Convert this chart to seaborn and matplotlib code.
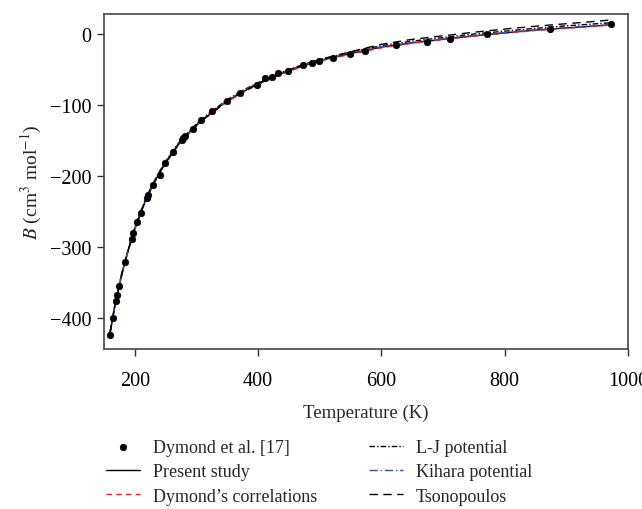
import matplotlib
matplotlib.use("Agg")
import matplotlib.pyplot as plt
import seaborn as sns
import pandas as pd

# Experimental data (Dymond et al.)
exp_T = [159, 164, 169, 171, 175, 184, 195, 197, 203, 210, 219, 222, 230, 241, 249,
         262, 276, 278, 281, 295, 308, 325, 349, 371, 398, 411, 422, 433, 449, 473,
         487, 499, 522, 549, 573, 624, 674, 712, 772, 873, 972]
exp_B = [-423, -400, -376, -367, -354, -320, -288, -280, -265, -252, -231, -226, -212, -198, -181,
         -165, -149, -146, -143, -133, -121, -108, -94, -82, -71.5, -62, -60, -55, -52, -43,
         -40, -38, -33, -27, -23.5, -14.5, -10.5, -7, 0, 8, 14]

# Curve temperatures
curve_T = [160, 165, 170, 175, 180, 190, 200, 210, 220, 230, 240, 250, 260, 270, 280,
           300, 325, 350, 375, 400, 425, 450, 475, 500, 550, 600, 650, 700, 750, 800,
           850, 900, 950, 975]
present_B = [-420, -395, -373, -353, -334, -302, -274, -250, -229, -211, -195, -181, -168, -156, -146,
             -128, -110, -94, -81, -70, -60, -51, -44, -37, -27, -18, -12, -7, -2, 2,
             6, 9, 12, 14]
dymond_B = [-421, -396, -374, -354, -335, -303, -275, -251, -230, -212, -196, -182, -169, -157, -147,
            -129, -111, -95, -82, -71, -61, -52, -45, -38, -28, -19, -12.5, -7.5, -2.5, 1.5,
            5.5, 8.5, 11.5, 13.5]
kihara_B = [-419, -394, -372, -352, -333, -301, -273, -249, -228, -210, -194, -180, -167, -155, -145,
            -127, -109, -93, -80, -69, -59, -50, -43, -36.5, -26.5, -17.5, -11.5, -6.5, -1.5, 2.5,
            6.5, 9.5, 12.5, 14.5]
lj_B = [-418, -393, -371, -351, -332, -300, -272, -248, -227, -209, -193, -179, -166, -154, -144,
        -126, -108, -92, -79, -68, -58, -49.5, -42, -35.5, -25, -16, -9.5, -4.5, 0.5, 4.5,
        8.5, 12, 15, 16.5]
tsono_B = [-420, -395, -373, -353, -334, -302, -274, -250, -229, -211, -195, -181, -168, -156, -146,
           -128, -110, -94, -81, -69.5, -59, -50, -42.5, -35.5, -24.5, -14, -7, -2, 3, 7.5,
           11.5, 15, 18.5, 20.5]

labels = ["Dymond et al. [17]", "Present study", "Dymond\u2019s correlations",
          "L-J potential", "Kihara potential", "Tsonopoulos"]

sns.set_style("ticks")
plt.rcParams['font.family'] = ['Liberation Serif', 'DejaVu Serif']
plt.rcParams['mathtext.fontset'] = 'stix'

fig = plt.figure(figsize=(6.42, 5.10), dpi=100)
ax = fig.add_axes([0.162, 0.314, 0.816, 0.657])

df_exp = pd.DataFrame({"T": exp_T, "B": exp_B})
df_c = pd.DataFrame({"T": curve_T, "present": present_B, "dymond": dymond_B,
                     "kihara": kihara_B, "lj": lj_B, "tsono": tsono_B})

sns.lineplot(data=df_c, x="T", y="present", ax=ax, color="black", lw=1.0, label=labels[1])
sns.lineplot(data=df_c, x="T", y="dymond", ax=ax, color="#e8202a", lw=1.0,
             linestyle=(0, (4, 3)), label=labels[2])
sns.lineplot(data=df_c, x="T", y="lj", ax=ax, color="black", lw=1.0,
             linestyle=(0, (4, 1.5, 1, 1.5)), label=labels[3])
sns.lineplot(data=df_c, x="T", y="kihara", ax=ax, color="#3a4fb0", lw=1.0,
             linestyle=(0, (6, 2, 1, 2)), label=labels[4])
sns.lineplot(data=df_c, x="T", y="tsono", ax=ax, color="black", lw=1.0,
             linestyle=(0, (6, 4)), label=labels[5])
sns.scatterplot(data=df_exp, x="T", y="B", ax=ax, color="black", s=22, edgecolor="black",
                linewidth=0.5, zorder=3, label=labels[0])

ax.set_xlim(150, 1000)
ax.set_ylim(-443, 29)
ax.set_xticks([200, 400, 600, 800, 1000])
ax.set_yticks([0, -100, -200, -300, -400])
ax.set_yticklabels(["0", "\u2212100", "\u2212200", "\u2212300", "\u2212400"])
ax.tick_params(direction="out", length=5, width=1, labelsize=14.5, colors="#333333",
               labelcolor="black")
ax.tick_params(axis="x", pad=11)
ax.tick_params(axis="y", pad=4)
for s in ax.spines.values():
    s.set_color("#444444")
    s.set_linewidth(1.2)
    s.set_visible(True)
ax.set_xlabel("Temperature (K)", fontsize=13.5, labelpad=10)
ax.set_ylabel(r"$B$ (cm$^3$ mol$^{-1}$)", fontsize=14, labelpad=4)

handles, labs = ax.get_legend_handles_labels()
order = [labs.index(l) for l in labels]
ax.get_legend().remove()
fig.legend([handles[i] for i in order], [labs[i] for i in order],
           loc="upper left", bbox_to_anchor=(0.165, 0.137), ncol=2, frameon=False,
           fontsize=13, handlelength=1.9, handletextpad=0.7, columnspacing=2.85,
           labelspacing=0.4, borderaxespad=0, borderpad=0)

fig.savefig("out.png", dpi=100)
